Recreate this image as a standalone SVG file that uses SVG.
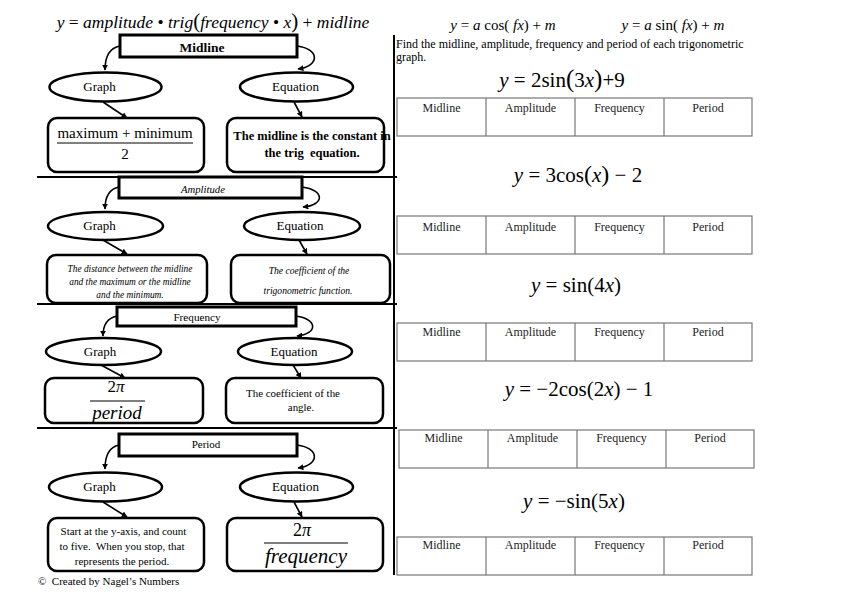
<svg xmlns="http://www.w3.org/2000/svg" width="842" height="595" viewBox="0 0 842 595">
<style>
text{font-family:"Liberation Serif","Times New Roman",serif;fill:#000;white-space:pre}
.tb{fill:#fff;stroke:#000;stroke-width:3}
.el{fill:#fff;stroke:#000;stroke-width:2.5}
.bx{fill:#fff;stroke:#000;stroke-width:2.5}
.cn{fill:none;stroke:#000;stroke-width:1.6}
.sep{stroke:#000;stroke-width:2}
.tbl{fill:#fff;stroke:#777;stroke-width:1.2}
.hd{font-size:12px;text-anchor:middle;fill:#222}
.lbl{font-size:13px;text-anchor:middle}
.it{font-style:italic}
.eq{font-size:21px;text-anchor:middle}
</style>
<defs>
<marker id="ah" viewBox="0 0 10 10" refX="9" refY="5" markerWidth="6" markerHeight="6" orient="auto" markerUnits="userSpaceOnUse">
<path d="M0,0 L10,5 L0,10 z" fill="#000"/>
</marker>
</defs>

<!-- header formula -->
<text x="213" y="28" font-size="17.5" text-anchor="middle"><tspan class="it">y</tspan> = <tspan class="it">amplitude</tspan> • <tspan class="it">trig</tspan><tspan font-size="21">(</tspan><tspan class="it">frequency</tspan> • <tspan class="it">x</tspan><tspan font-size="21">)</tspan> + <tspan class="it">midline</tspan></text>

<!-- separators -->
<g id="separators">
<line class="sep" x1="394" y1="35" x2="394" y2="575"/>
<line class="sep" x1="37" y1="177" x2="397" y2="177"/>
<line class="sep" x1="37" y1="304" x2="397" y2="304"/>
<line class="sep" x1="37" y1="428" x2="397" y2="428"/>
</g>

<!-- Section 1: Midline -->
<g id="midline-title"><rect class="tb" x="120" y="35" width="177" height="22"/><text x="202" y="52" font-size="13.5" font-weight="bold" text-anchor="middle">Midline</text></g>
<g id="midline-graph"><ellipse class="el" cx="105.5" cy="87" rx="56" ry="14.5"/><text class="lbl" x="99.5" y="91">Graph</text></g>
<g id="midline-eq"><ellipse class="el" cx="296.5" cy="87" rx="56.5" ry="14.5"/><text class="lbl" x="295.5" y="91">Equation</text></g>
<g id="midline-graph-box"><rect class="bx" x="48" y="118" width="156" height="54" rx="9"/>
<text x="125" y="138" font-size="15" text-anchor="middle">maximum + minimum</text>
<line x1="57" y1="143" x2="193" y2="143" stroke="#000" stroke-width="1"/>
<text x="125" y="159" font-size="15" text-anchor="middle">2</text></g>
<g id="midline-eq-box"><rect class="bx" x="227" y="118" width="157" height="54" rx="9"/>
<text x="312" y="140" font-size="12.5" font-weight="bold" text-anchor="middle">The midline is the constant in</text>
<text x="312" y="157" font-size="12.5" font-weight="bold" text-anchor="middle">the trig  equation.</text></g>

<!-- Section 2: Amplitude -->
<g id="amp-title"><rect class="tb" x="119" y="177" width="183" height="21"/><text x="203" y="193" font-size="10.7" class="it" text-anchor="middle">Amplitude</text></g>
<g id="amp-graph"><ellipse class="el" cx="105.5" cy="226" rx="57.5" ry="14"/><text class="lbl" x="99.5" y="230">Graph</text></g>
<g id="amp-eq"><ellipse class="el" cx="302" cy="226" rx="58" ry="14"/><text class="lbl" x="300" y="230">Equation</text></g>
<g id="amp-graph-box"><rect class="bx" x="47" y="255" width="160" height="48" rx="9"/>
<text x="130" y="272" font-size="9.4" class="it" text-anchor="middle">The distance between the midline</text>
<text x="130" y="285" font-size="9.4" class="it" text-anchor="middle">and the maximum or the midline</text>
<text x="130" y="298" font-size="9.4" class="it" text-anchor="middle">and the minimum.</text></g>
<g id="amp-eq-box"><rect class="bx" x="231" y="255" width="159" height="48" rx="9"/>
<text x="309" y="274" font-size="9.6" class="it" text-anchor="middle">The coefficient of the</text>
<text x="308" y="294" font-size="9.6" class="it" text-anchor="middle">trigonometric function.</text></g>

<!-- Section 3: Frequency -->
<g id="freq-title"><rect class="tb" x="117" y="307" width="179" height="19"/><text x="197" y="321" font-size="11.2" text-anchor="middle">Frequency</text></g>
<g id="freq-graph"><ellipse class="el" cx="103.5" cy="351.5" rx="57.5" ry="13.5"/><text class="lbl" x="100" y="356">Graph</text></g>
<g id="freq-eq"><ellipse class="el" cx="295" cy="351.5" rx="57" ry="13.5"/><text class="lbl" x="294" y="356">Equation</text></g>
<g id="freq-graph-box"><rect class="bx" x="45" y="378" width="158" height="45" rx="9"/>
<text x="116" y="392" font-size="17" text-anchor="middle">2<tspan class="it">π</tspan></text>
<line x1="90" y1="401" x2="145" y2="401" stroke="#000" stroke-width="1"/>
<text x="117" y="419" font-size="19" class="it" text-anchor="middle">period</text></g>
<g id="freq-eq-box"><rect class="bx" x="226" y="378" width="157" height="45" rx="9"/>
<text x="293" y="397" font-size="10.9" text-anchor="middle">The coefficient of the</text>
<text x="301" y="411" font-size="10.9" text-anchor="middle">angle.</text></g>

<!-- Section 4: Period -->
<g id="period-title"><rect class="tb" x="119" y="434" width="178" height="22"/><text x="206" y="448" font-size="11" text-anchor="middle">Period</text></g>
<g id="period-graph"><ellipse class="el" cx="105.5" cy="487" rx="56.5" ry="14.5"/><text class="lbl" x="99.5" y="491">Graph</text></g>
<g id="period-eq"><ellipse class="el" cx="296.5" cy="487" rx="56.5" ry="14.5"/><text class="lbl" x="295.5" y="491">Equation</text></g>
<g id="period-graph-box"><rect class="bx" x="48" y="518" width="156" height="53" rx="9"/>
<text x="123.5" y="535" font-size="11" text-anchor="middle">Start at the y-axis, and count</text>
<text x="122" y="550" font-size="11" text-anchor="middle">to five.  When you stop, that</text>
<text x="122" y="565" font-size="11" text-anchor="middle">represents the period.</text></g>
<g id="period-eq-box"><rect class="bx" x="227" y="518" width="156" height="53" rx="9"/>
<text x="302" y="536" font-size="18" text-anchor="middle">2<tspan class="it">π</tspan></text>
<line x1="264" y1="543" x2="348" y2="543" stroke="#000" stroke-width="1"/>
<text x="306" y="563" font-size="21" class="it" text-anchor="middle">frequency</text></g>

<text x="38" y="585" font-size="11">©  Created by Nagel’s Numbers</text>

<!-- connectors -->
<g id="connectors">
<path class="cn" marker-end="url(#ah)" d="M120,46 C109,48 105,58 105,70"/>
<path class="cn" marker-end="url(#ah)" d="M297,46 C320,49 320,66 298,69"/>
<path class="cn" marker-end="url(#ah)" d="M103,102 L127,118"/>
<path class="cn" marker-end="url(#ah)" d="M294,102 L302,117"/>

<path class="cn" marker-end="url(#ah)" d="M119,187 C109,189 105,198 105,209"/>
<path class="cn" marker-end="url(#ah)" d="M302,187 C325,190 325,205 303,207"/>
<path class="cn" marker-end="url(#ah)" d="M103,240 L127,254"/>
<path class="cn" marker-end="url(#ah)" d="M299,240 L307,254"/>

<path class="cn" marker-end="url(#ah)" d="M117,316 C107,318 103,326 103,336"/>
<path class="cn" marker-end="url(#ah)" d="M296,316 C318,319 318,334 297,336"/>
<path class="cn" marker-end="url(#ah)" d="M101,365 L125,378"/>
<path class="cn" marker-end="url(#ah)" d="M293,365 L301,378"/>

<path class="cn" marker-end="url(#ah)" d="M119,445 C109,447 105,457 105,469"/>
<path class="cn" marker-end="url(#ah)" d="M297,445 C320,448 320,465 298,468"/>
<path class="cn" marker-end="url(#ah)" d="M103,502 L127,517"/>
<path class="cn" marker-end="url(#ah)" d="M294,502 L302,517"/>
</g>

<!-- right side -->
<text x="503" y="30" font-size="15" text-anchor="middle"><tspan class="it">y</tspan> = <tspan class="it">a</tspan> cos( <tspan class="it">fx</tspan>) + <tspan class="it">m</tspan></text>
<text x="673" y="30" font-size="15" text-anchor="middle"><tspan class="it">y</tspan> = <tspan class="it">a</tspan> sin( <tspan class="it">fx</tspan>) + <tspan class="it">m</tspan></text>
<text x="396" y="48" font-size="12">Find the midline, amplitude, frequency and period of each trigonometric</text>
<text x="396" y="61" font-size="12">graph.</text>

<text class="eq" x="562" y="87"><tspan class="it">y</tspan> = 2sin<tspan font-size="25">(</tspan>3<tspan class="it">x</tspan><tspan font-size="25">)</tspan>+9</text>
<g id="table1"><rect class="tbl" x="397" y="98" width="355" height="38"/>
<line class="tbl" x1="486" y1="98" x2="486" y2="136"/><line class="tbl" x1="575" y1="98" x2="575" y2="136"/><line class="tbl" x1="664" y1="98" x2="664" y2="136"/>
<text class="hd" x="441.5" y="112">Midline</text><text class="hd" x="530.5" y="112">Amplitude</text><text class="hd" x="619.5" y="112">Frequency</text><text class="hd" x="708" y="112">Period</text></g>

<text class="eq" x="578" y="182" font-size="20"><tspan class="it">y</tspan> = 3cos<tspan font-size="24">(</tspan><tspan class="it">x</tspan><tspan font-size="24">)</tspan> − 2</text>
<g id="table2"><rect class="tbl" x="397" y="216" width="355" height="38"/>
<line class="tbl" x1="486" y1="216" x2="486" y2="254"/><line class="tbl" x1="575" y1="216" x2="575" y2="254"/><line class="tbl" x1="664" y1="216" x2="664" y2="254"/>
<text class="hd" x="441.5" y="231">Midline</text><text class="hd" x="530.5" y="231">Amplitude</text><text class="hd" x="619.5" y="231">Frequency</text><text class="hd" x="708" y="231">Period</text></g>

<text class="eq" x="576" y="292" font-size="22"><tspan class="it">y</tspan> = sin(4<tspan class="it">x</tspan>)</text>
<g id="table3"><rect class="tbl" x="397" y="323" width="355" height="38"/>
<line class="tbl" x1="486" y1="323" x2="486" y2="361"/><line class="tbl" x1="575" y1="323" x2="575" y2="361"/><line class="tbl" x1="664" y1="323" x2="664" y2="361"/>
<text class="hd" x="441.5" y="336">Midline</text><text class="hd" x="530.5" y="336">Amplitude</text><text class="hd" x="619.5" y="336">Frequency</text><text class="hd" x="708" y="336">Period</text></g>

<text class="eq" x="579" y="396"><tspan class="it">y</tspan> = −2cos(2<tspan class="it">x</tspan>) − 1</text>
<g id="table4"><rect class="tbl" x="399" y="430" width="355" height="38"/>
<line class="tbl" x1="488" y1="430" x2="488" y2="468"/><line class="tbl" x1="577" y1="430" x2="577" y2="468"/><line class="tbl" x1="666" y1="430" x2="666" y2="468"/>
<text class="hd" x="443.5" y="442">Midline</text><text class="hd" x="532.5" y="442">Amplitude</text><text class="hd" x="621.5" y="442">Frequency</text><text class="hd" x="710" y="442">Period</text></g>

<text class="eq" x="574" y="508"><tspan class="it">y</tspan> = −sin(5<tspan class="it">x</tspan>)</text>
<g id="table5"><rect class="tbl" x="397" y="537" width="355" height="38"/>
<line class="tbl" x1="486" y1="537" x2="486" y2="575"/><line class="tbl" x1="575" y1="537" x2="575" y2="575"/><line class="tbl" x1="664" y1="537" x2="664" y2="575"/>
<text class="hd" x="441.5" y="549">Midline</text><text class="hd" x="530.5" y="549">Amplitude</text><text class="hd" x="619.5" y="549">Frequency</text><text class="hd" x="708" y="549">Period</text></g>
</svg>
